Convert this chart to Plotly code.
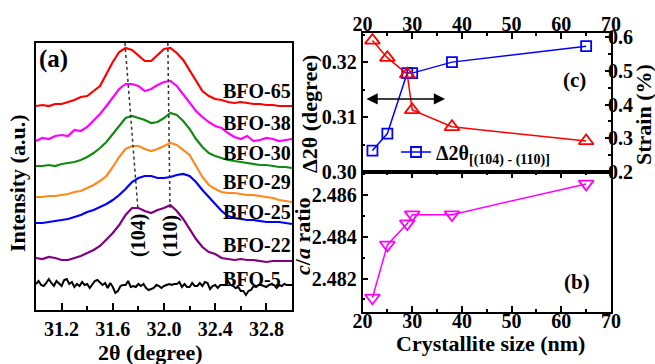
import plotly.graph_objects as go

# ---------------- Panel (a): XRD patterns ----------------
two_theta = [31.00, 31.05, 31.10, 31.15, 31.20, 31.25, 31.30, 31.35, 31.40, 31.45,
             31.50, 31.55, 31.60, 31.65, 31.70, 31.75, 31.80, 31.85, 31.90, 31.95,
             32.00, 32.05, 32.10, 32.15, 32.20, 32.25, 32.30, 32.35, 32.40, 32.45,
             32.50, 32.55, 32.60, 32.65, 32.70, 32.75, 32.80, 32.85, 32.90, 32.95,
             33.00]

bfo65 = [204, 205, 204, 206, 206, 208, 210, 213, 214, 219, 224, 236, 248, 258, 262, 260, 254, 249, 249, 255,
         261, 262, 257, 250, 240, 229, 219, 214, 211, 210, 208, 207, 208, 207, 206, 206, 205, 205, 204, 204, 204]
bfo38 = [169, 172, 171, 174, 175, 174, 180, 179, 183, 189, 196, 204, 212, 221, 226, 226, 224, 219, 221, 225,
         228, 229, 224, 216, 208, 199, 193, 188, 184, 182, 177, 173, 171, 174, 169, 170, 172, 171, 169, 170, 171]
bfo30 = [144, 144, 145, 144, 146, 147, 148, 150, 153, 157, 162, 168, 176, 185, 192, 194, 192, 190, 187, 188,
         192, 197, 195, 189, 181, 171, 163, 157, 154, 152, 150, 149, 148, 147, 146, 145, 145, 144, 143, 143, 142]
bfo29 = [113, 113, 114, 114, 115, 116, 118, 119, 122, 125, 129, 134, 143, 153, 161, 164, 164, 161, 159, 161,
         164, 167, 165, 160, 155, 144, 133, 125, 121, 118, 117, 117, 116, 115, 115, 114, 113, 112, 110, 109, 108]
bfo25 = [87, 87, 88, 89, 90, 91, 93, 95, 98, 100, 103, 106, 110, 115, 121, 128, 132, 134, 134, 132,
         132, 133, 135, 136, 134, 128, 120, 113, 107, 99, 94, 92, 91, 90, 90, 89, 88, 88, 88, 87, 86]
bfo22 = [52, 51, 53, 52, 50, 50, 52, 54, 57, 60, 64, 70, 77, 85, 95, 102, 102, 99, 97, 100,
         102, 105, 99, 91, 81, 71, 63, 58, 56, 52, 51, 50, 51, 50, 50, 49, 48, 49, 49, 49, 49]

two_theta_fine = [31.00, 31.02, 31.04, 31.06, 31.08, 31.10, 31.12, 31.14, 31.16, 31.18,
                  31.20, 31.22, 31.24, 31.26, 31.28, 31.30, 31.32, 31.34, 31.36, 31.38,
                  31.40, 31.42, 31.44, 31.46, 31.48, 31.50, 31.52, 31.54, 31.56, 31.58,
                  31.60, 31.62, 31.64, 31.66, 31.68, 31.70, 31.72, 31.74, 31.76, 31.78,
                  31.80, 31.82, 31.84, 31.86, 31.88, 31.90, 31.92, 31.94, 31.96, 31.98,
                  32.00, 32.02, 32.04, 32.06, 32.08, 32.10, 32.12, 32.14, 32.16, 32.18,
                  32.20, 32.22, 32.24, 32.26, 32.28, 32.30, 32.32, 32.34, 32.36, 32.38,
                  32.40, 32.42, 32.44, 32.46, 32.48, 32.50, 32.52, 32.54, 32.56, 32.58,
                  32.60, 32.62, 32.64, 32.66, 32.68, 32.70, 32.72, 32.74, 32.76, 32.78,
                  32.80, 32.82, 32.84, 32.86, 32.88, 32.90, 32.92, 32.94, 32.96, 32.98,
                  33.00]
bfo5 = [26, 29, 25, 24, 27, 31, 27, 24, 29, 26, 24, 30, 31, 26, 28, 23, 26, 24, 28, 25,
        26, 22, 26, 29, 30, 27, 25, 27, 22, 27, 23, 17, 19, 24, 25, 25, 29, 23, 24, 23,
        26, 24, 26, 22, 20, 21, 22, 25, 24, 22, 24, 25, 26, 25, 26, 26, 28, 23, 26, 23,
        23, 27, 24, 24, 27, 24, 28, 27, 21, 24, 25, 22, 25, 25, 25, 29, 25, 24, 22, 23,
        19, 19, 15, 19, 20, 24, 23, 25, 25, 24, 23, 25, 26, 25, 22, 25, 24, 26, 25, 25,
        25]

samples = ["BFO-65", "BFO-38", "BFO-30", "BFO-29", "BFO-25", "BFO-22", "BFO-5"]
sample_label_y = [219, 187, 157, 128, 98, 65, 31]
sample_colors = ["#ff0000", "#ff00ff", "#138a13", "#ff8a1c", "#0000ff", "#800080", "#000000"]

peak104_x = [31.695, 31.797]
peak110_x = [32.03, 32.047]
peak_guide_y = [267, 100]

# ---------------- Panels (c) and (b) ----------------
size_nm = [22, 25, 29, 30, 38, 65]
delta2theta = [0.3039, 0.3070, 0.3180, 0.3180, 0.3200, 0.3229]
strain = [0.590, 0.539, 0.490, 0.384, 0.334, 0.292]
ca_ratio = [2.48108, 2.48361, 2.48463, 2.48506, 2.48506, 2.48653]

size_ticks = [20, 30, 40, 50, 60, 70]
strain_ticks = [0.2, 0.3, 0.4, 0.5, 0.6]

FONT = "Liberation Serif, Times New Roman, serif"
W, H = 655, 364

fig = go.Figure()

curves = [bfo65, bfo38, bfo30, bfo29, bfo25, bfo22]
for name, ys, col in zip(samples[:6], curves, sample_colors[:6]):
    fig.add_trace(go.Scatter(x=two_theta, y=ys, mode="lines", line=dict(color=col, width=2.2),
                             showlegend=False, xaxis="x", yaxis="y", name=name))
fig.add_trace(go.Scatter(x=two_theta_fine, y=bfo5, mode="lines", line=dict(color="#000000", width=2),
                         showlegend=False, xaxis="x", yaxis="y", name="BFO-5"))
for gx in (peak104_x, peak110_x):
    fig.add_trace(go.Scatter(x=gx, y=peak_guide_y, mode="lines",
                             line=dict(color="#333333", width=1.5, dash="dot"),
                             showlegend=False, xaxis="x", yaxis="y"))

# panel (c)
fig.add_trace(go.Scatter(x=size_nm, y=strain, mode="lines+markers",
                         line=dict(color="#ff0000", width=1.5),
                         marker=dict(symbol="triangle-up-open", size=13, color="#ff0000",
                                     line=dict(width=1.8)),
                         showlegend=False, xaxis="x2", yaxis="y3"))
fig.add_trace(go.Scatter(x=size_nm, y=delta2theta, mode="lines+markers",
                         line=dict(color="#0000ff", width=1.5),
                         marker=dict(symbol="square-open", size=10, color="#0000ff",
                                     line=dict(width=1.8)),
                         name="Δ2θ<sub>[(104) - (110)]</sub>",
                         showlegend=True, xaxis="x2", yaxis="y2"))
# panel (b)
fig.add_trace(go.Scatter(x=size_nm, y=ca_ratio, mode="lines+markers",
                         line=dict(color="#ff00ff", width=1.5),
                         marker=dict(symbol="triangle-down-open", size=13, color="#ff00ff",
                                     line=dict(width=1.8)),
                         showlegend=False, xaxis="x3", yaxis="y4"))
# empty traces binding the label-only axes
fig.add_trace(go.Scatter(x=[], y=[], xaxis="x4", yaxis="y4", showlegend=False))
fig.add_trace(go.Scatter(x=[], y=[], xaxis="x5", yaxis="y2", showlegend=False))
fig.add_trace(go.Scatter(x=[], y=[], xaxis="x2", yaxis="y5", showlegend=False))


def px(x):
    return x / W


def py(y):
    return 1 - y / H


tickfont = dict(family=FONT, size=20, color="black", weight="bold")
axis_common = dict(showline=True, linecolor="black", linewidth=1.5, showgrid=False,
                   zeroline=False, ticks="inside", tickcolor="black", tickwidth=1.5,
                   tickfont=tickfont, automargin=False)
label_axis = dict(showline=False, showgrid=False, zeroline=False, ticks="",
                  tickfont=tickfont, automargin=False, anchor="free")

left_dom_x = [px(36), px(292)]
left_dom_y = [py(310), py(43)]
right_dom_x = [px(362.5), px(611)]
top_dom_y = [py(172), py(33)]
bot_dom_y = [py(312), py(172)]

fig.update_layout(
    width=W, height=H, margin=dict(l=0, r=0, t=0, b=0, pad=0, autoexpand=False), autosize=False,
    paper_bgcolor="white", plot_bgcolor="white",
    font=dict(family=FONT, size=20, color="black", weight="bold"),
    xaxis=dict(domain=left_dom_x, anchor="y", range=[31.0, 33.0], tick0=31.2, dtick=0.4,
               tickformat=".1f", ticklen=7, mirror=True,
               minor=dict(ticks="inside", ticklen=4, dtick=0.2, tick0=31.2, tickcolor="black"),
               **axis_common),
    yaxis=dict(domain=left_dom_y, anchor="x", range=[0, 267], showticklabels=False,
               mirror=True, **{k: v for k, v in axis_common.items() if k != "ticks"}, ticks=""),
    xaxis2=dict(domain=right_dom_x, anchor="y2", side="top", range=[20, 70], tickvals=size_ticks,
                ticklen=6, mirror=True, showticklabels=False,
                minor=dict(ticks="inside", ticklen=3, dtick=5, tickcolor="black"),
                **axis_common),
    xaxis5=dict(overlaying="x2", side="top", position=py(35), range=[20, 70],
                tickvals=size_ticks, **label_axis),
    yaxis2=dict(domain=top_dom_y, anchor="x2", range=[0.300, 0.3253],
                tickvals=[0.30, 0.31, 0.32], ticktext=["0.30", "0.31", "0.32"], ticklen=6,
                minor=dict(ticks="inside", ticklen=3, dtick=0.005, tick0=0.30, tickcolor="black"),
                **axis_common),
    yaxis3=dict(overlaying="y2", anchor="x2", side="right", range=[0.2, 0.612],
                tickvals=strain_ticks, ticklen=6, showticklabels=False,
                minor=dict(ticks="inside", ticklen=3, dtick=0.05, tick0=0.2, tickcolor="black"),
                **axis_common),
    yaxis5=dict(overlaying="y2", side="right", position=px(607), range=[0.2, 0.612],
                tickvals=strain_ticks, ticktext=["0.2", "0.3", "0.4", "0.5", "0.6"],
                **label_axis),
    xaxis3=dict(domain=right_dom_x, anchor="y4", range=[20, 70], tickvals=size_ticks, ticklen=6,
                mirror="ticks", showticklabels=False,
                minor=dict(ticks="inside", ticklen=3, dtick=5, tickcolor="black"),
                **axis_common),
    xaxis4=dict(overlaying="x3", side="bottom", position=py(307), range=[20, 70],
                tickvals=size_ticks, **label_axis),
    yaxis4=dict(domain=bot_dom_y, anchor="x3", range=[2.4804, 2.4871],
                tickvals=[2.482, 2.484, 2.486], ticktext=["2.482", "2.484", "2.486"], ticklen=6,
                mirror=True,
                minor=dict(ticks="inside", ticklen=3, dtick=0.001, tick0=2.481, tickcolor="black"),
                **axis_common),
    legend=dict(x=px(396), y=py(152), xanchor="left", yanchor="middle",
                bgcolor="rgba(0,0,0,0)", font=dict(family=FONT, size=20, color="black"),
                itemwidth=30, tracegroupgap=0),
)

C = dict(xanchor="center", yanchor="middle", showarrow=False)
ann = []
for name, yv in zip(samples, sample_label_y):
    ann.append(dict(x=32.445, y=yv, xref="x", yref="y", text=name, showarrow=False,
                    xanchor="left", yanchor="middle",
                    font=dict(family=FONT, size=20, color="black", weight="bold")))
ann.append(dict(x=peak104_x[1], y=74, xref="x", yref="y", text="(104)", textangle=-90,
                font=dict(family=FONT, size=20, weight="bold"), **C))
ann.append(dict(x=peak110_x[1], y=74, xref="x", yref="y", text="(110)", textangle=-90,
                font=dict(family=FONT, size=20, weight="bold"), **C))
ann.append(dict(x=px(53), y=py(59), xref="paper", yref="paper", text="(a)",
                font=dict(family=FONT, size=25, weight="bold"), **C))
ann.append(dict(x=px(574.5), y=py(80), xref="paper", yref="paper", text="(c)",
                font=dict(family=FONT, size=21, weight="bold"), **C))
ann.append(dict(x=px(576.5), y=py(281.5), xref="paper", yref="paper", text="(b)",
                font=dict(family=FONT, size=21, weight="bold"), **C))
# axis titles
title_font = dict(family=FONT, size=22, color="black", weight="bold")
ann.append(dict(x=px(17), y=py(183), xref="paper", yref="paper", text="Intensity (a.u.)",
                textangle=-90, font=title_font, **C))
ann.append(dict(x=px(150), y=py(352), xref="paper", yref="paper", text="2θ (degree)",
                font=title_font, **C))
ann.append(dict(x=px(490), y=py(343), xref="paper", yref="paper", text="Crystallite size (nm)",
                font=title_font, **C))
ann.append(dict(x=px(309), y=py(114), xref="paper", yref="paper", text="Δ2θ (degree)",
                textangle=-90, font=title_font, **C))
ann.append(dict(x=px(302), y=py(236), xref="paper", yref="paper", text="<i>c</i>/<i>a</i> ratio",
                textangle=-90, font=title_font, **C))
ann.append(dict(x=px(643), y=py(115), xref="paper", yref="paper", text="Strain (%)",
                textangle=-90, font=title_font, **C))
# double-headed arrow
ann.append(dict(x=36.6, y=0.3133, ax=20.5, ay=0.3133, xref="x2", yref="y2", axref="x2", ayref="y2",
                text="", showarrow=True, arrowhead=2, startarrowhead=2, arrowside="end+start",
                arrowsize=1.4, startarrowsize=1.4, arrowwidth=1.6, arrowcolor="black"))
fig.update_layout(annotations=ann)

fig.write_html("out.html", config={"displayModeBar": False},
               post_script="document.body.style.margin='0';")
